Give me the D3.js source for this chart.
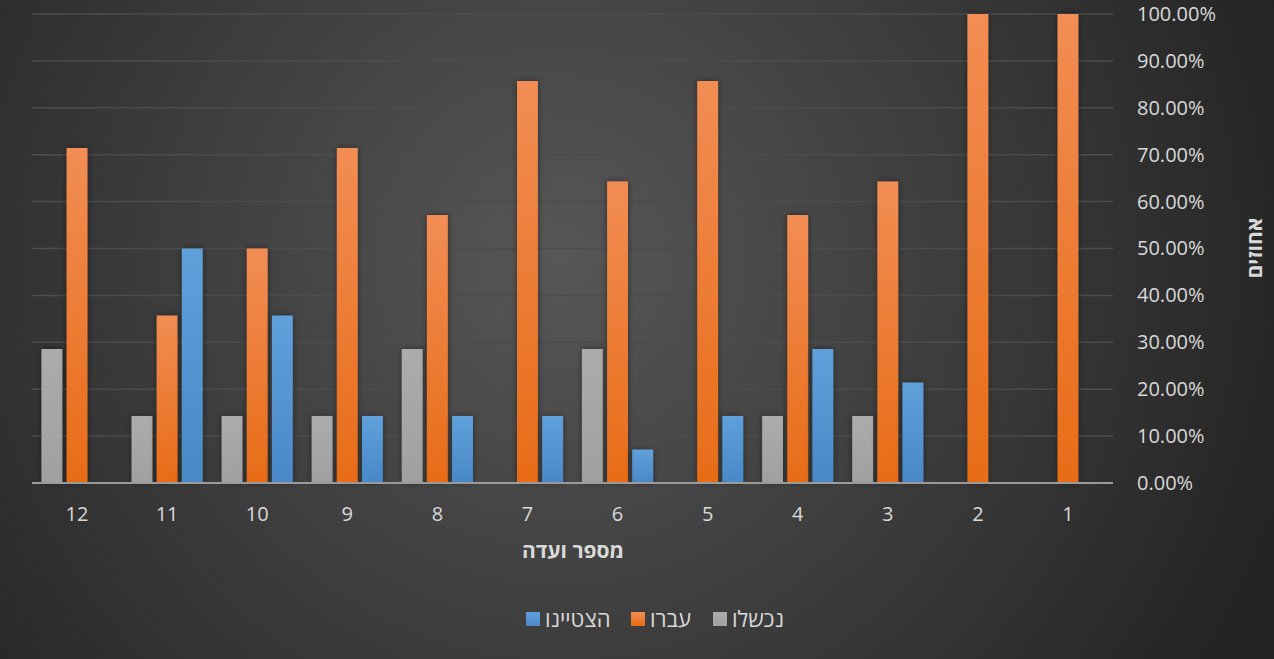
<!DOCTYPE html>
<html>
    <head>
        <meta charset="utf-8">
        <style>
            html, body {
                margin: 0px;
                padding: 0px;
                background-color: #262626;
                font-family: "Open Sans", "Noto Sans", sans-serif;
            }

            svg text {
                fill: #d9d9d9;
            }

            .axis .domain {
                display: none;
            }

            .axis line {
                stroke: transparent;
            }

            .axis text {
                font-size: 20px;
                fill: #d9d9d9;
                font-family: "Open Sans", "Noto Sans", sans-serif;
            }

            .title {
                font-size: 21px;
                font-weight: bold;
            }

            .legend text {
                font-size: 22px;
            }
        </style>
        <script src="https://cdn.jsdelivr.net/npm/d3@7/dist/d3.min.js"></script>
    </head>
    <body>
        <div id="main"></div>

        <script>
            // data (shares of 14 people)
            var categories = ["1", "2", "3", "4", "5", "6", "7", "8", "9", "10", "11", "12"];
            var failed   = [0, 0, 0.1429, 0.1429, 0, 0.2857, 0, 0.2857, 0.1429, 0.1429, 0.1429, 0.2857];
            var passed   = [1, 1, 0.6429, 0.5714, 0.8571, 0.6429, 0.8571, 0.5714, 0.7143, 0.5, 0.3571, 0.7143];
            var excelled = [0, 0, 0.2143, 0.2857, 0.1429, 0.0714, 0.1429, 0.1429, 0.1429, 0.3571, 0.5, 0];
            var yTicks = [0, 0.1, 0.2, 0.3, 0.4, 0.5, 0.6, 0.7, 0.8, 0.9, 1];

            var seriesNames = ["נכשלו", "עברו", "הצטיינו"];
            var seriesValues = [failed, passed, excelled];
            var seriesTop = ["#acacac", "#f28d54", "#5fa0db"];
            var seriesBottom = ["#a0a0a0", "#e86c17", "#4a88c7"];

            var width = 1274;
            var height = 659;
            var plot = { left: 32, right: 1113, top: 14, bottom: 483 };

            function main() {
                var svg = d3.select("#main")
                    .append("svg")
                    .attr("width", width)
                    .attr("height", height)
                    .style("display", "block");

                var defs = svg.append("defs");

                var bg = defs.append("radialGradient")
                    .attr("id", "bg")
                    .attr("gradientUnits", "userSpaceOnUse")
                    .attr("cx", 560).attr("cy", 260).attr("r", 760);
                bg.append("stop").attr("offset", "0").attr("stop-color", "#575757");
                bg.append("stop").attr("offset", "1").attr("stop-color", "#242424");

                seriesNames.forEach(function(n, i) {
                    var g = defs.append("linearGradient")
                        .attr("id", "bar" + i)
                        .attr("x1", 0).attr("y1", 0).attr("x2", 0).attr("y2", 1);
                    g.append("stop").attr("offset", "0").attr("stop-color", seriesTop[i]);
                    g.append("stop").attr("offset", "1").attr("stop-color", seriesBottom[i]);
                });

                var shadow = defs.append("filter")
                    .attr("id", "shadow")
                    .attr("x", "-50%").attr("y", "-10%")
                    .attr("width", "200%").attr("height", "120%");
                shadow.append("feDropShadow")
                    .attr("dx", 0).attr("dy", 0)
                    .attr("stdDeviation", 3)
                    .attr("flood-color", "#000")
                    .attr("flood-opacity", 0.45);

                svg.append("rect")
                    .attr("width", width)
                    .attr("height", height)
                    .attr("fill", "url(#bg)");

                // categories run right to left
                var x = d3.scaleBand()
                    .domain(categories)
                    .range([plot.right, plot.left])
                    .paddingInner(0.21)
                    .paddingOuter(0.105);

                var xInner = d3.scaleBand()
                    .domain(d3.range(seriesNames.length))
                    .range([0, x.bandwidth()])
                    .paddingInner(0.17);

                var y = d3.scaleLinear()
                    .domain([0, 1])
                    .range([plot.bottom, plot.top]);

                // gridlines
                svg.append("g")
                    .selectAll("line")
                    .data(yTicks.slice(1))
                    .enter()
                    .append("line")
                    .attr("x1", plot.left)
                    .attr("x2", plot.right)
                    .attr("y1", function(d) { return y(d); })
                    .attr("y2", function(d) { return y(d); })
                    .attr("stroke", "#4c4c4c")
                    .attr("stroke-width", 1.5);

                // bars (grey, orange, blue from left to right in each group)
                var groups = svg.append("g")
                    .selectAll("g")
                    .data(categories)
                    .enter()
                    .append("g")
                    .attr("transform", function(d) { return "translate(" + x(d) + ",0)"; });

                groups.selectAll("rect")
                    .data(function(d, ci) {
                        return seriesValues.map(function(vals, si) { return { s: si, v: vals[ci] }; });
                    })
                    .enter()
                    .filter(function(d) { return d.v > 0; })
                    .append("rect")
                    .attr("x", function(d) { return xInner(d.s); })
                    .attr("width", xInner.bandwidth())
                    .attr("y", function(d) { return y(d.v); })
                    .attr("height", function(d) { return y(0) - y(d.v); })
                    .attr("fill", function(d) { return "url(#bar" + d.s + ")"; })
                    .attr("filter", "url(#shadow)");

                // baseline
                svg.append("line")
                    .attr("x1", plot.left)
                    .attr("x2", plot.right)
                    .attr("y1", y(0))
                    .attr("y2", y(0))
                    .attr("stroke", "#9a9a9a")
                    .attr("stroke-width", 2);

                svg.append("g")
                    .attr("class", "axis")
                    .attr("transform", "translate(0," + (plot.bottom + 12) + ")")
                    .call(d3.axisBottom(x).tickSize(0).tickPadding(12));

                svg.append("g")
                    .attr("class", "axis")
                    .attr("transform", "translate(" + (plot.right + 24) + ",0)")
                    .call(d3.axisRight(y).tickValues(yTicks).tickSize(0).tickPadding(0)
                        .tickFormat(function(d) { return (d * 100).toFixed(2) + "%"; }));

                svg.append("text")
                    .attr("class", "title")
                    .attr("transform", "translate(" + 1255 + "," + 248 + ") rotate(-90)")
                    .attr("dy", "0.35em")
                    .style("text-anchor", "middle")
                    .text("אחוזים");

                svg.append("text")
                    .attr("class", "title")
                    .attr("x", 573)
                    .attr("y", 558)
                    .style("text-anchor", "middle")
                    .text("מספר ועדה");

                // legend
                var legendX = [713, 631, 526];
                var legend = svg.append("g")
                    .attr("class", "legend")
                    .selectAll("g")
                    .data(seriesNames)
                    .enter()
                    .append("g")
                    .attr("transform", function(d, i) { return "translate(" + legendX[i] + ",612)"; });

                legend.append("rect")
                    .attr("width", 14)
                    .attr("height", 14)
                    .attr("fill", function(d, i) { return "url(#bar" + i + ")"; });

                legend.append("text")
                    .attr("x", 19)
                    .attr("y", 7)
                    .attr("dy", "0.35em")
                    .attr("direction", "ltr")
                    .style("text-anchor", "start")
                    .text(function(d) { return d; });
            }

            main();
        </script>
    </body>
</html>
